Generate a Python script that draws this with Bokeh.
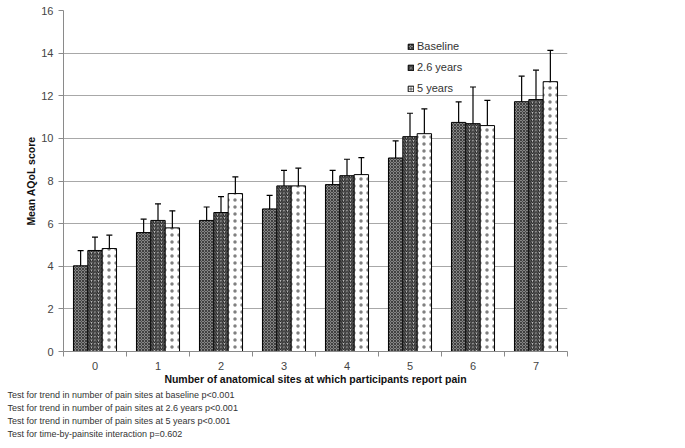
from bokeh.plotting import figure
from bokeh.models import (ColumnDataSource, FixedTicker, Whisker, TeeHead, Legend,
                          LegendItem, Title, Range1d)
from bokeh.embed import file_html
from bokeh.resources import INLINE

# ---- data ----
categories = ["0", "1", "2", "3", "4", "5", "6", "7"]
series_names = ["Baseline", "2.6 years", "5 years"]
baseline = [4.02, 5.58, 6.15, 6.69, 7.83, 9.08, 10.75, 11.72]
baseline_err = [0.71, 0.63, 0.63, 0.64, 0.67, 0.80, 0.96, 1.20]
years_2_6 = [4.74, 6.15, 6.52, 7.77, 8.25, 10.08, 10.69, 11.82]
years_2_6_err = [0.63, 0.78, 0.75, 0.73, 0.77, 1.10, 1.72, 1.38]
years_5 = [4.83, 5.80, 7.41, 7.77, 8.30, 10.22, 10.60, 12.66]
years_5_err = [0.63, 0.80, 0.78, 0.83, 0.80, 1.16, 1.18, 1.47]
y_ticks = [0, 2, 4, 6, 8, 10, 12, 14, 16]
x_title = "Number of anatomical sites at which participants report pain"
y_title = "Mean AQoL score"
footnotes = [
    "Test  for trend in number of pain sites at baseline p<0.001",
    "Test  for trend in number of pain sites at 2.6 years  p<0.001",
    "Test  for trend in number of pain sites at 5 years p<0.001",
    "Test for time-by-painsite interaction p=0.602",
]

FONT = "Liberation Sans"
W, H = 677, 440
ML, MR, MT, MB = 63, 110, 10, 89

p = figure(width=W, height=H, x_range=Range1d(0, len(categories)), y_range=Range1d(0, 16),
           output_backend="svg", toolbar_location=None,
           min_border_left=ML, min_border_right=MR, min_border_top=MT, min_border_bottom=MB)
p.outline_line_color = None
p.background_fill_color = "white"
p.border_fill_color = "white"
p.xgrid.visible = False
p.ygrid.grid_line_color = "#a8a8a8"
p.ygrid.grid_line_width = 1

bar_w = 0.228
styles = [
    dict(fill_color="#858585", hatch_pattern="diagonal_cross", hatch_color="#404040",
         hatch_scale=3, hatch_weight=1),
    dict(fill_color="#c4c4c4", hatch_pattern="right_diagonal_line", hatch_color="#222222",
         hatch_scale=3.5, hatch_weight=1.2),
    dict(fill_color="#ffffff", hatch_pattern="dot", hatch_color="#808080",
         hatch_scale=7, hatch_weight=0.5),
]
values = [baseline, years_2_6, years_5]
errors = [baseline_err, years_2_6_err, years_5_err]
offsets = [-bar_w, 0.0, bar_w]

items = []
for name, vals, errs, off, st in zip(series_names, values, errors, offsets, styles):
    xs = [i + 0.5 + off for i in range(len(categories))]
    src = ColumnDataSource(dict(x=xs, top=vals,
                                upper=[v + e for v, e in zip(vals, errs)],
                                lower=[v - e for v, e in zip(vals, errs)]))
    r = p.vbar(x="x", top="top", width=bar_w, source=src, line_color="black",
               line_width=1, **st)
    w = Whisker(source=src, base="x", upper="upper", lower="lower",
                line_color="black", line_width=1.2,
                upper_head=TeeHead(size=6, line_color="black", line_width=1.2),
                lower_head=TeeHead(size=6, line_color="black", line_width=1.2))
    p.add_layout(w)
    items.append(LegendItem(label=name, renderers=[r]))

legend = Legend(items=items, location=(344, 256), padding=0, margin=0,
                glyph_width=7, glyph_height=7, label_height=14, spacing=7,
                label_standoff=3, border_line_color=None, background_fill_alpha=0,
                label_text_font=FONT, label_text_font_size="11px",
                label_text_color="#333333")
p.add_layout(legend, "center")

# x axis
xt = [i + 0.5 for i in range(len(categories))]
p.xaxis.ticker = FixedTicker(ticks=xt, minor_ticks=list(range(len(categories) + 1)))
p.xaxis.major_label_overrides = {t: c for t, c in zip(xt, categories)}
p.xaxis.major_tick_out = 0
p.xaxis.major_tick_in = 0
p.xaxis.minor_tick_out = 5
p.xaxis.minor_tick_in = 0
p.xaxis.minor_tick_line_color = "#8a8a8a"
p.xaxis.axis_line_color = "#8a8a8a"
p.xaxis.major_label_standoff = 5
p.xaxis.major_label_text_font = FONT
p.xaxis.major_label_text_font_size = "11px"
p.xaxis.major_label_text_color = "#444444"
p.xaxis.axis_label = x_title
p.xaxis.axis_label_text_font = FONT
p.xaxis.axis_label_text_font_style = "bold"
p.xaxis.axis_label_text_font_size = "10.5px"
p.xaxis.axis_label_text_color = "#111111"
p.xaxis.axis_label_standoff = 0

# y axis
p.yaxis.ticker = FixedTicker(ticks=y_ticks, minor_ticks=[])
p.yaxis.major_tick_out = 5
p.yaxis.major_tick_in = 0
p.yaxis.major_tick_line_color = "#8a8a8a"
p.yaxis.axis_line_color = "#8a8a8a"
p.yaxis.major_label_standoff = 5
p.yaxis.major_label_text_font = FONT
p.yaxis.major_label_text_font_size = "11px"
p.yaxis.major_label_text_color = "#444444"
p.yaxis.axis_label = y_title
p.yaxis.axis_label_text_font = FONT
p.yaxis.axis_label_text_font_style = "bold"
p.yaxis.axis_label_text_font_size = "10.5px"
p.yaxis.axis_label_text_color = "#111111"
p.yaxis.axis_label_standoff = 1

# footnotes as left-aligned titles stacked below the x axis
for txt in footnotes:
    p.add_layout(Title(text=txt, align="left", offset=-56, standoff=1,
                       text_font=FONT, text_font_size="9px", text_font_style="normal",
                       text_color="#333333"), "below")

open("out.html", "w").write(file_html(p, INLINE))
